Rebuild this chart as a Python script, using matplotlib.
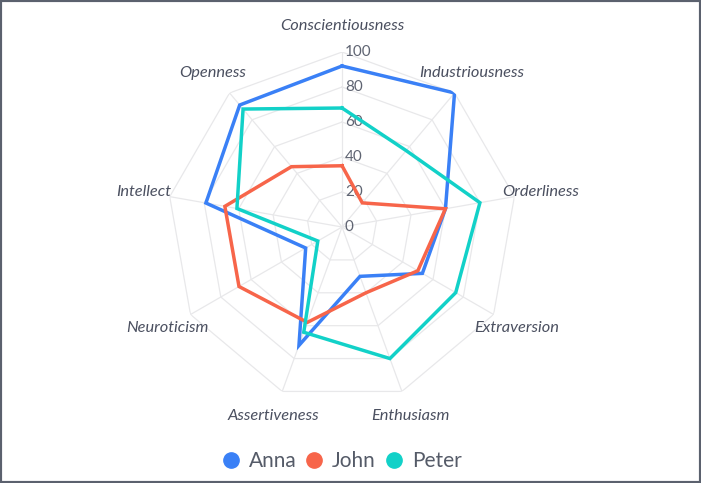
import numpy as np
import matplotlib.pyplot as plt
from matplotlib.lines import Line2D
from matplotlib.patches import Rectangle

categories = ["Conscientiousness", "Industriousness", "Orderliness", "Extraversion",
              "Enthusiasm", "Assertiveness", "Neuroticism", "Intellect", "Openness"]
anna = [92, 100, 60, 53, 30, 72, 24, 79, 91]
john = [35, 18, 60, 50, 40, 58, 68, 68, 45]
peter = [68, 57, 80, 75, 80, 64, 16, 61, 88]
series_names = ["Anna", "John", "Peter"]
colors = ["#3a80f6", "#f7654a", "#12d1c8"]
levels = [0, 20, 40, 60, 80, 100]

label_color = "#4b5060"
grid_color = "#e8e8ea"

fig = plt.figure(figsize=(7.01, 4.83), dpi=100)
ax = fig.add_axes([0.2383, 0.1677, 0.4993, 0.7246], projection="polar")
ax.set_theta_offset(np.pi / 2)
ax.set_theta_direction(-1)
ax.set_ylim(0, 100)
ax.grid(False)
ax.spines["polar"].set_visible(False)
ax.set_xticks([])
ax.set_yticks([])
ax.patch.set_alpha(0)

n = len(categories)
theta = np.arange(n) * 2 * np.pi / n
theta_closed = np.append(theta, theta[0])

# polygon grid
for lv in levels[1:]:
    ax.plot(theta_closed, [lv] * (n + 1), color=grid_color, lw=0.9, zorder=1)
for t in theta:
    ax.plot([t, t], [0, 100], color=grid_color, lw=0.9, zorder=1)

# level labels along the first axis
for lv in levels:
    ax.annotate(str(lv), xy=(0, lv), xytext=(2, 0), textcoords="offset points",
                ha="left", va="center", fontsize=11, color="#5f6472",
                family="Lato", zorder=2)

# axis labels
for t, name in zip(theta, categories):
    ax.text(t, 115, name, ha="center", va="center", fontsize=11.8, style="italic",
            color=label_color, family="Lato")

for vals, c in zip([anna, john, peter], colors):
    ax.plot(theta_closed, list(vals) + [vals[0]], color=c, lw=2.5, zorder=3,
            solid_joinstyle="miter")

handles = [Line2D([], [], marker="o", ls="none", markersize=11, color=c) for c in colors]
leg = fig.legend(handles, series_names, loc="center", bbox_to_anchor=(0.487, 0.0455),
                 ncol=3, frameon=False, handlelength=0.9, handletextpad=0.4,
                 columnspacing=0.42, prop={"family": "Lato", "size": 15})
for txt in leg.get_texts():
    txt.set_color("#555b68")

fig.patches.append(Rectangle((0, 0), 1, 1, transform=fig.transFigure, fill=False,
                             edgecolor="#5b616e", lw=3))

fig.savefig("out.png", dpi=100)
